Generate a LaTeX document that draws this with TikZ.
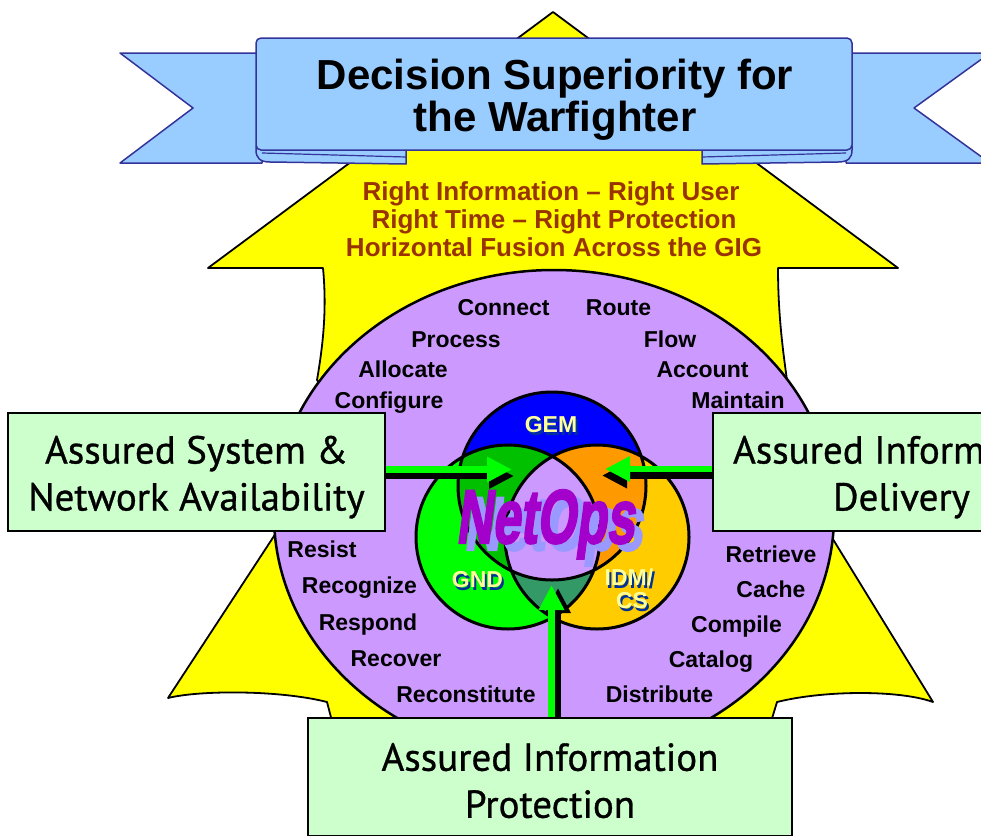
\documentclass[tikz,border=0pt]{standalone}
\usepackage{fontspec}
\usepackage{graphicx}
\setmainfont{Liberation Sans}
\newfontfamily\boxfont[FakeBold=0.8]{PT Sans}
\newfontfamily\netfont[FakeSlant=0.2,FakeBold=3]{Liberation Sans}
\usetikzlibrary{arrows.meta}
\definecolor{yel}{HTML}{FFFF00}
\definecolor{lav}{HTML}{CC99FF}
\definecolor{boxgreen}{HTML}{CCFFCC}
\definecolor{argreen}{HTML}{00FF00}
\definecolor{banblue}{HTML}{99CCFF}
\definecolor{banline}{HTML}{333399}
\definecolor{txtbrown}{HTML}{993300}
\definecolor{gemblue}{HTML}{0000FF}
\definecolor{gndgreen}{HTML}{00FF00}
\definecolor{idmgold}{HTML}{FFCC00}
\definecolor{gemgnd}{HTML}{00C000}
\definecolor{gemidm}{HTML}{FF9900}
\definecolor{gndidm}{HTML}{339966}
\definecolor{lblyellow}{HTML}{FFFF99}
\definecolor{lblshadow}{HTML}{003399}
\definecolor{netpurple}{HTML}{A300CC}
\definecolor{netshadow}{HTML}{9999FF}
\tikzset{
  banner/.style={fill=banblue, draw=banline, line width=1.5pt, line join=round},
  lbl/.style={font=\bfseries\fontsize{23}{26}\selectfont, anchor=base, inner sep=0pt},
  toptext/.style={font=\bfseries\fontsize{26}{28}\selectfont, text=txtbrown, anchor=base, inner sep=0pt},
  titletext/.style={font=\bfseries\fontsize{42}{44}\selectfont, anchor=base, inner sep=0pt},
  vennlbl/.style={font=\bfseries\fontsize{23}{26}\selectfont, text=lblyellow, anchor=base, inner sep=0pt},
  vennshadow/.style={font=\bfseries\fontsize{23}{26}\selectfont, text=lblshadow, anchor=base, inner sep=0pt},
  netstyle/.style={anchor=base, inner sep=0pt, font=\netfont\bfseries\fontsize{76}{76}\selectfont},
  assurebox/.style={draw=black, fill=boxgreen, line width=1.5pt, align=center, inner sep=0pt,
    font=\boxfont\fontsize{39}{47}\selectfont},
  arshadow/.style={draw=black, line width=6.5pt, -{Triangle[length=25pt,width=24pt]}},
  argr/.style={draw=argreen, line width=6.5pt, -{Triangle[length=25pt,width=24pt]}},
}
\begin{document}
\begin{tikzpicture}[x=1pt,y=-1pt]
\useasboundingbox (0,0) rectangle (981,835);
\clip (0,0) rectangle (981,835);

% yellow star-like arrow shape
\draw[fill=yel, line width=1.8pt, line join=round]
  (553,12) -- (208,268) -- (323,268)
  .. controls (327,310) and (323,345) .. (317,380)
  -- (420,520) -- (276,533) -- (168,698)
  .. controls (200,690) and (280,690) .. (327,702) -- (333,725) -- (770,725) -- (777,702)
  .. controls (825,690) and (900,690) .. (933,702)
  -- (831,536) -- (690,520) -- (787,380)
  .. controls (782,345) and (778,310) .. (778,268)
  -- (898,268) -- cycle;

% banner
\draw[banner] (120,53) -- (262,53) -- (262,163) -- (120,163) -- (193,108) -- cycle;
\draw[banner] (990,53) -- (846,53) -- (846,163) -- (990,163) -- (914,108) -- cycle;
\draw[banner] (256,146) -- (406,146) -- (406,164) -- (270,162)
  .. controls (260,162) and (256,158) .. (256,150) -- cycle;
\draw[banline, line width=1.2pt] (262,153) -- (406,157);
\draw[banner] (852,146) -- (702,146) -- (702,164) -- (838,162)
  .. controls (848,162) and (852,158) .. (852,150) -- cycle;
\draw[banline, line width=1.2pt] (846,153) -- (702,157);
\draw[banner, rounded corners=5pt] (256,38) -- (852,38) -- (852,150) -- (256,150) -- cycle;
\node[titletext] (title1) at (555,89) {Decision Superiority for};
\node[titletext] (title2) at (555,131) {the Warfighter};

% yellow area text
\node[toptext] (t1) at (551,200) {Right Information -- Right User};
\node[toptext] (t2) at (554,228) {Right Time -- Right Protection};
\node[toptext] (t3) at (554,256) {Horizontal Fusion Across the GIG};

% purple ellipse
\draw[fill=lav, line width=2.5pt] (554,515) ellipse [x radius=280, y radius=245];

% labels around
\node[lbl] (connect) at (503.5,315) {Connect};
\node[lbl] (route) at (618.5,315) {Route};
\node[lbl] (process) at (456,347) {Process};
\node[lbl] (flow) at (670,347) {Flow};
\node[lbl] (allocate) at (403,377) {Allocate};
\node[lbl] (account) at (702.5,377) {Account};
\node[lbl] (configure) at (389,408) {Configure};
\node[lbl] (maintain) at (738,408) {Maintain};
\node[lbl] (resist) at (322,557) {Resist};
\node[lbl] (recognize) at (359.5,593) {Recognize};
\node[lbl] (respond) at (368,630) {Respond};
\node[lbl] (recover) at (396,666) {Recover};
\node[lbl] (reconstitute) at (466,702) {Reconstitute};
\node[lbl] (retrieve) at (771,562) {Retrieve};
\node[lbl] (cache) at (771,597) {Cache};
\node[lbl] (compile) at (736.5,632) {Compile};
\node[lbl] (catalog) at (711,667) {Catalog};
\node[lbl] (distribute) at (659.5,702) {Distribute};

% Venn circles
\fill[gemblue] (552,486) circle [radius=94];
\fill[gndgreen] (508,537) circle [radius=92];
\fill[idmgold] (597,537) circle [radius=92];
\begin{scope}
  \clip (552,486) circle [radius=94];
  \fill[gemgnd] (508,537) circle [radius=92];
  \fill[gemidm] (597,537) circle [radius=92];
\end{scope}
\begin{scope}
  \clip (508,537) circle [radius=92];
  \fill[gndidm] (597,537) circle [radius=92];
  \clip (597,537) circle [radius=92];
  \fill[lav] (552,486) circle [radius=94];
\end{scope}
\draw[line width=3pt] (552,486) circle [radius=94] (508,537) circle [radius=92] (597,537) circle [radius=92];

% Venn labels
\node[vennshadow] (gemS) at (553,435) {GEM};
\node[vennlbl] (gem) at (551,432) {GEM};
\node[vennshadow] (gndS) at (479.5,590) {GND};
\node[vennlbl] (gnd) at (477.5,587) {GND};
\node[vennshadow] (idmS) at (631,588) {IDM/};
\node[vennlbl] (idm) at (629,585) {IDM/};
\node[vennshadow] (csS) at (634,611) {CS};
\node[vennlbl] (cs) at (632,608) {CS};

% NetOps
\node[netstyle, text=netshadow] (netopsS) at (553,550) {\scalebox{0.66}[1]{NetOps}};
\node[netstyle, text=netpurple] (netops) at (545,543) {\scalebox{0.66}[1]{NetOps}};

% boxes
\node[assurebox, minimum width=377pt, minimum height=118pt] (boxL) at (196.5,472) {\rule{0pt}{38pt}Assured System \&\\Network Availability};
\node[assurebox, minimum width=377pt, minimum height=118pt] (boxR) at (901.5,472) {\rule{0pt}{38pt}Assured Information\\Delivery};
\node[assurebox, minimum width=484pt, minimum height=118pt] (boxB) at (550,777) {\rule{0pt}{35pt}Assured Information\\Protection};

% arrows
\coordinate (tipL) at (512,469.5);
\coordinate (tipLs) at (514,476);
\coordinate (tipR) at (605,469);
\coordinate (tipRs) at (602,475.5);
\coordinate (tipB) at (551.5,585);
\coordinate (tipBs) at (558,588);
\draw[arshadow] (boxL.east |- tipLs) -- (tipLs);
\draw[argr] (boxL.east |- tipL) -- (tipL);
\draw[arshadow] (boxR.west |- tipRs) -- (tipRs);
\draw[argr] (boxR.west |- tipR) -- (tipR);
\draw[arshadow] (boxB.north -| tipBs) -- (tipBs);
\draw[argr] (boxB.north -| tipB) -- (tipB);
\end{tikzpicture}
\end{document}
